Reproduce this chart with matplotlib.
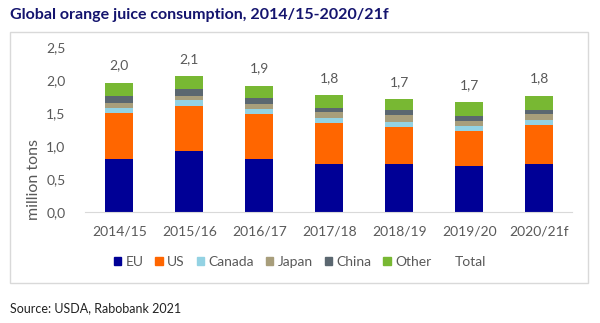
import numpy as np
import matplotlib
matplotlib.use("Agg")
import matplotlib.pyplot as plt
from matplotlib.patches import Rectangle
from matplotlib.lines import Line2D

plt.rcParams['font.family'] = ['Lato', 'DejaVu Sans']

# Consumption by region, million tons
seasons = ["2014/15", "2015/16", "2016/17", "2017/18", "2018/19", "2019/20", "2020/21f"]
eu     = [0.80, 0.92, 0.81, 0.73, 0.73, 0.70, 0.73]
us     = [0.70, 0.68, 0.67, 0.62, 0.56, 0.53, 0.59]
canada = [0.08, 0.09, 0.08, 0.07, 0.08, 0.08, 0.08]
japan  = [0.07, 0.07, 0.08, 0.10, 0.10, 0.07, 0.08]
china  = [0.11, 0.10, 0.09, 0.06, 0.07, 0.08, 0.07]
other  = [0.20, 0.20, 0.18, 0.19, 0.17, 0.20, 0.21]

series = [("EU", eu, "#000096"), ("US", us, "#FF6600"), ("Canada", canada, "#93D2E3"),
          ("Japan", japan, "#A89E7B"), ("China", china, "#5B6770"), ("Other", other, "#78B833")]

grey = "#595959"

fig = plt.figure(figsize=(6, 3.23), dpi=100)
ax = fig.add_axes([85 / 600, 1 - 212 / 323, (572 - 85) / 600, (212 - 47) / 323])

x = np.arange(len(seasons))
bottom = np.zeros(len(seasons))
for name, vals, col in series:
    ax.bar(x, vals, width=0.4, bottom=bottom, color=col, label=name, linewidth=0)
    bottom += np.array(vals)

totals = bottom
ax.plot(x, totals, linestyle="none", label="Total")
for xi, t in zip(x, totals):
    ax.annotate(f"{t:.1f}".replace(".", ","), (xi, t), xytext=(0, 12.5),
                textcoords="offset points", ha="center", va="center",
                fontsize=10, color=grey)

ax.set_xlim(-0.49, 6.47)
ax.set_ylim(0, 2.5)
ax.set_yticks(np.arange(0, 2.51, 0.5))
ax.set_yticklabels([f"{v:.1f}".replace(".", ",") for v in np.arange(0, 2.51, 0.5)])
ax.set_xticks(x)
ax.set_xticklabels(seasons)
ax.tick_params(length=0, labelsize=10, colors=grey, pad=10)
ax.tick_params(axis="y", pad=14)
for s in ["left", "right", "top"]:
    ax.spines[s].set_visible(False)
ax.spines["bottom"].set_color("#D9D9D9")
ax.set_ylabel("million tons", fontsize=11.5, color=grey, va="center")
ax.yaxis.set_label_coords(-(85 - 34) / 487, 0.2)

# legend: coloured squares plus an empty slot for the total
handles = [Rectangle((0, 0), 1, 1, color=col) for _, _, col in series]
handles.append(Line2D([], [], linestyle="none"))
labels = [name for name, _, _ in series] + ["Total"]
fig.legend(handles, labels, loc="center", bbox_to_anchor=(0.5, 1 - 262 / 323), ncol=7,
           frameon=False, fontsize=10, labelcolor=grey, handlelength=0.55,
           handleheight=0.55, handletextpad=0.3, columnspacing=0.85)

# frame around the chart area
fig.patches.append(Rectangle((10 / 600, 1 - 283 / 323), 578 / 600, 251 / 323,
                             transform=fig.transFigure, fill=False,
                             edgecolor="#D9D9D9", linewidth=1))

fig.text(10 / 600, 1 - 15 / 323, "Global orange juice consumption, 2014/15-2020/21f",
         fontsize=11.5, fontweight="bold", color="#14146E", va="center")
fig.text(10 / 600, 1 - 308 / 323, "Source: USDA, Rabobank 2021", fontsize=9,
         color="#222222", va="center")

fig.savefig("out.png", dpi=100)
